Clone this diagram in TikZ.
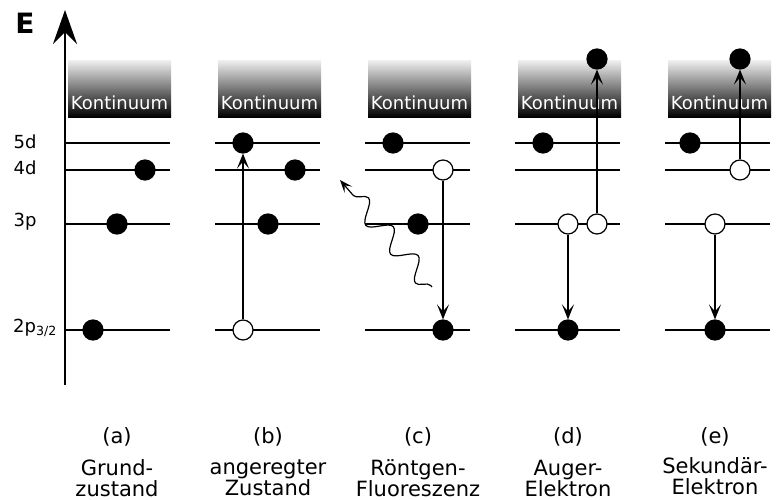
\documentclass[tikz,border=0pt]{standalone}
\usepackage{fontspec}
\setmainfont{DejaVu Sans}
\usetikzlibrary{arrows.meta,decorations.pathmorphing}
\begin{document}
\begin{tikzpicture}[x=1pt,y=-1pt,
  lvl/.style={line width=2pt},
  full/.style={circle,fill=black,draw=black,line width=1.2pt,minimum size=20pt,inner sep=0pt},
  hole/.style={circle,fill=white,draw=black,line width=1.2pt,minimum size=20pt,inner sep=0pt},
  trans/.style={line width=1.5pt,-{Stealth[length=15pt,width=12pt,inset=7pt]}},
  kont/.style={draw=none,top color=black!6,bottom color=black,minimum width=103pt,minimum height=57pt,inner sep=0pt,anchor=north west},
  ktext/.style={text=white,font=\fontsize{18}{20}\selectfont},
  lbl/.style={font=\fontsize{18}{20}\selectfont},
  captxt/.style={font=\fontsize{21}{24}\selectfont,align=center}
]
\useasboundingbox (0,0) rectangle (779,500);
% axis
\coordinate (ax0) at (65,385);
\coordinate (ax1) at (65,10);
\draw[line width=2pt,-{Stealth[length=34pt,width=24pt,inset=12pt]}] (ax0) -- (ax1);
\node[font=\fontsize{28}{30}\selectfont\bfseries] (E) at (25,23) {E};
% level labels
\node[lbl] (l5d) at (25,142) {5d};
\node[lbl] (l4d) at (25,168) {4d};
\node[lbl] (l3p) at (25,222) {3p};
\node[lbl] (l2p) at (35,328) {2p\textsubscript{3/2}};
% panels
\foreach \p/\x in {a/65,b/215,c/365,d/515,e/665}{
  \node[kont] (k\p) at (\x+3,60) {};
  \node[ktext] (kt\p) at (\x+54.5,103) {Kontinuum};
  \coordinate (s5\p) at (\x,143); \coordinate (e5\p) at (\x+105,143);
  \coordinate (s4\p) at (\x,170); \coordinate (e4\p) at (\x+105,170);
  \coordinate (s3\p) at (\x,224); \coordinate (e3\p) at (\x+105,224);
  \coordinate (s2\p) at (\x,330); \coordinate (e2\p) at (\x+105,330);
  \draw[lvl] (s5\p) -- (e5\p);
  \draw[lvl] (s4\p) -- (e4\p);
  \draw[lvl] (s3\p) -- (e3\p);
  \draw[lvl] (s2\p) -- (e2\p);
}
% (a)
\node[full] (a2) at (93,330) {};
\node[full] (a3) at (117,224) {};
\node[full] (a4) at (145,170) {};
% (b)
\node[hole] (b2) at (243,330) {};
\node[full] (b5) at (243,143) {};
\node[full] (b4) at (295,170) {};
\node[full] (b3) at (268,224) {};
\draw[trans] (b2) -- (b5);
% (c)
\node[full] (c5) at (393,143) {};
\node[hole] (c4) at (443,170) {};
\node[full] (c3) at (418,224) {};
\node[full] (c2) at (443,330) {};
\draw[trans] (c4) -- (c2);
\coordinate (ph0) at (432,287);
\coordinate (ph1) at (340,180);
\draw[line width=1.2pt,decorate,decoration={snake,amplitude=10pt,segment length=38pt,pre length=2pt,post length=10pt},-{Stealth[length=13pt,width=10pt,inset=6pt]}] (ph0) -- (ph1);
% (d)
\node[full] (d5) at (543,143) {};
\node[hole] (d3a) at (568,224) {};
\node[hole] (d3b) at (597,224) {};
\node[full] (d2) at (568,330) {};
\node[full] (dk) at (597,59) {};
\draw[trans] (d3a) -- (d2);
\draw[trans] (d3b) -- (dk);
% (e)
\node[full] (e5) at (690,143) {};
\node[hole] (e4) at (740,170) {};
\node[hole] (e3) at (715,224) {};
\node[full] (e2) at (715,330) {};
\node[full] (ek) at (740,59) {};
\draw[trans] (e3) -- (e2);
\draw[trans] (e4) -- (ek);
% captions
\node[captxt] (ca) at (117,437) {(a)};
\node[captxt] (cb) at (268,437) {(b)};
\node[captxt] (cc) at (418,437) {(c)};
\node[captxt] (cd) at (568,437) {(d)};
\node[captxt] (ce) at (715,437) {(e)};
\node[captxt] (ta) at (117,478) {Grund-\\[-3pt]zustand};
\node[captxt] (tb) at (268,478) {angeregter\\[-3pt]Zustand};
\node[captxt] (tc) at (418,478) {Röntgen-\\[-3pt]Fluoreszenz};
\node[captxt] (td) at (568,478) {Auger-\\[-3pt]Elektron};
\node[captxt] (te) at (715,476) {Sekundär-\\[-3pt]Elektron};
\end{tikzpicture}
\end{document}
